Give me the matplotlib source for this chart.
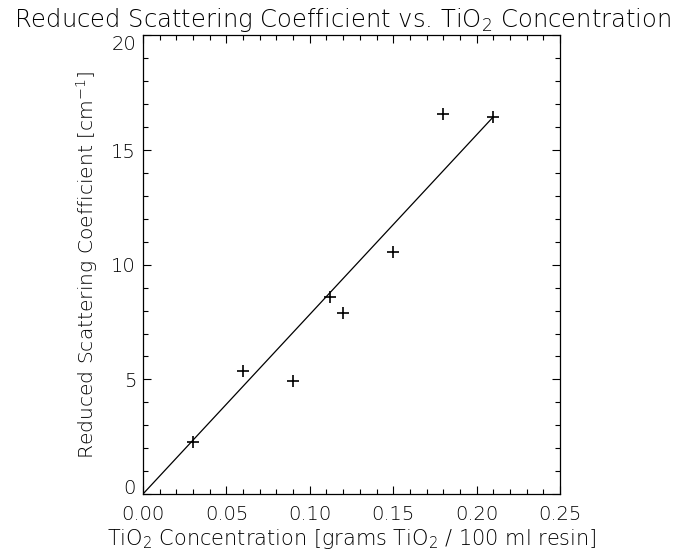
import matplotlib
matplotlib.use("Agg")
import matplotlib.pyplot as plt
from matplotlib.ticker import MultipleLocator

# measured points (TiO2 concentration vs reduced scattering coefficient)
conc = [0.03, 0.06, 0.09, 0.112, 0.12, 0.15, 0.18, 0.21]
mu_s = [2.26, 5.38, 4.95, 8.58, 7.90, 10.56, 16.58, 16.45]

# fitted line endpoints
fit_x = [0.0, 0.21]
fit_y = [0.0, 16.45]

x_ticks = [0.00, 0.05, 0.10, 0.15, 0.20, 0.25]
y_ticks = [0, 5, 10, 15, 20]

plt.rcParams["font.family"] = ["DejaVu Sans"]
plt.rcParams["font.weight"] = "light"
plt.rcParams["mathtext.fontset"] = "custom"
plt.rcParams["mathtext.rm"] = "DejaVu Sans:light"
plt.rcParams["mathtext.it"] = "DejaVu Sans:light"
plt.rcParams["mathtext.default"] = "regular"

fig = plt.figure(figsize=(6.89, 5.56), dpi=100)
ax = fig.add_axes([0.2075, 0.1115, 0.6053, 0.8247])

ax.plot(fit_x, fit_y, color="black", lw=0.9)
ax.plot(conc, mu_s, linestyle="none", marker="+", color="black",
        markersize=9, markeredgewidth=1.2)

ax.set_xlim(0, 0.25)
ax.set_ylim(0, 20)
ax.set_xticks(x_ticks)
ax.set_xticklabels([f"{v:.2f}" for v in x_ticks])
ax.set_yticks(y_ticks)
ylabels = ax.set_yticklabels([str(v) for v in y_ticks])
# IDL keeps the end labels inside the axis height
ylabels[0].set_va("baseline")
ylabels[-1].set_va("top")
ax.xaxis.set_minor_locator(MultipleLocator(0.01))
ax.yaxis.set_minor_locator(MultipleLocator(1))

ax.tick_params(which="both", direction="in", top=True, right=True,
               width=0.8, labelsize=14, colors="black")
ax.tick_params(which="major", length=6)
ax.tick_params(which="minor", length=3.5)
ax.tick_params(axis="x", pad=8)
ax.tick_params(axis="y", pad=5)
for spine in ax.spines.values():
    spine.set_linewidth(0.9)

ax.set_xlabel("TiO$_2$ Concentration [grams TiO$_2$ / 100 ml resin]",
              fontsize=15, fontweight="light", labelpad=2)
ax.set_ylabel("Reduced Scattering Coefficient [cm$^{-1}$]", fontsize=14.6,
              fontweight="light", labelpad=8)
fig.suptitle("Reduced Scattering Coefficient vs. TiO$_2$ Concentration",
             fontsize=17.5, fontweight="light", x=0.497, y=0.989)

fig.savefig("out.png", dpi=100)
plt.close(fig)
